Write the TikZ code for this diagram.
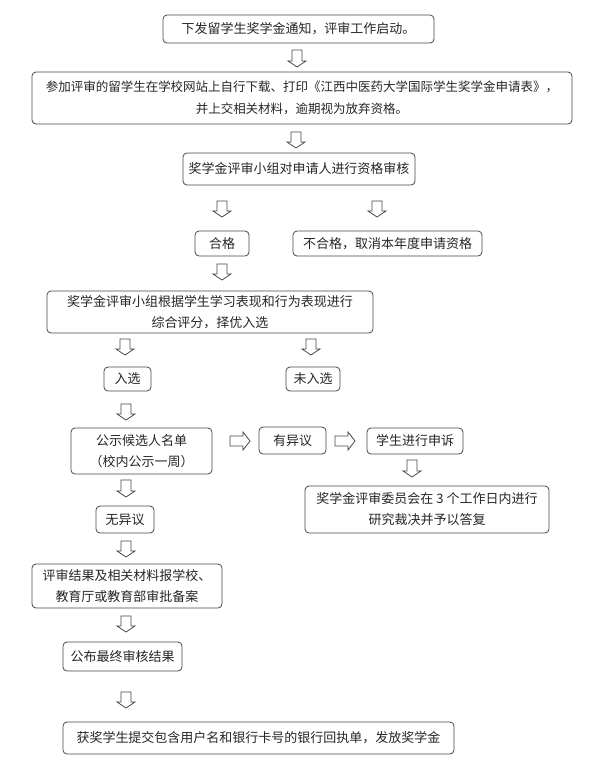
\documentclass[tikz,border=0pt]{standalone}
\usepackage{fontspec}
\newfontfamily\cjk{Noto Sans CJK SC}
\newcommand\downarr[3]{\draw[barrow] (#1-5,#2) -- (#1+5,#2) -- (#1+5,#3-6) -- (#1+9,#3-6) -- (#1,#3) -- (#1-9,#3-6) -- (#1-5,#3-6) -- cycle;}
\newcommand\rightarr[3]{\draw[barrow] (#1,#3-5) -- (#2-7,#3-5) -- (#2-7,#3-9) -- (#2,#3) -- (#2-7,#3+9) -- (#2-7,#3+5) -- (#1,#3+5) -- cycle;}
\begin{document}
\begin{tikzpicture}[x=1pt,y=-1pt,
  box/.style={draw=black!72, line width=0.8pt, rounded corners=4pt, inner sep=0pt, align=center,
    font=\cjk\fontsize{13}{21}\selectfont, text=black!85},
  barrow/.style={draw=black!72, line width=0.8pt, fill=white, line join=miter}]
\useasboundingbox (0,0) rectangle (594,772);
\fill[white] (0,0) rectangle (594,772);

\node[box, minimum width=271, minimum height=28] (b1) at (298.5,29) {下发留学生奖学金通知，评审工作启动。};
\node[box, minimum width=540, minimum height=52, font=\cjk\fontsize{12.5}{22}\selectfont] (b2) at (302,98) {参加评审的留学生在学校网站上自行下载、打印《江西中医药大学国际学生奖学金申请表》，\\并上交相关材料，逾期视为放弃资格。};
\node[box, minimum width=232, minimum height=32] (b3) at (299,169) {奖学金评审小组对申请人进行资格审核};
\node[box, minimum width=54, minimum height=25] (b4) at (222,243.5) {合格};
\node[box, minimum width=189, minimum height=25] (b5) at (387.5,243.5) {不合格，取消本年度申请资格};
\node[box, minimum width=326, minimum height=42] (b6) at (210,312) {奖学金评审小组根据学生学习表现和行为表现进行\\综合评分，择优入选};
\node[box, minimum width=47, minimum height=24] (b7) at (127.5,379) {入选};
\node[box, minimum width=54, minimum height=24] (b8) at (313,379) {未入选};
\node[box, minimum width=141, minimum height=46] (b9) at (141.5,451) {公示候选人名单\\（校内公示一周）};
\node[box, minimum width=67, minimum height=27] (b10) at (292.5,440.5) {有异议};
\node[box, minimum width=96, minimum height=26] (b11) at (415,441) {学生进行申诉};
\node[box, minimum width=244, minimum height=47] (b12) at (427,509.5) {奖学金评审委员会在 3 个工作日内进行\\研究裁决并予以答复};
\node[box, minimum width=58, minimum height=27] (b13) at (125,519.5) {无异议};
\node[box, minimum width=190, minimum height=44] (b14) at (127,586) {评审结果及相关材料报学校、\\教育厅或教育部审批备案};
\node[box, minimum width=119, minimum height=29] (b15) at (122.5,656.5) {公布最终审核结果};
\node[box, minimum width=391, minimum height=32] (b16) at (258.5,738) {获奖学生提交包含用户名和银行卡号的银行回执单，发放奖学金};

\downarr{297}{50}{67}
\downarr{296}{132}{148}
\downarr{222}{201}{217}
\downarr{377}{201}{217}
\downarr{222}{264}{280}
\downarr{125}{339}{355}
\downarr{311}{339}{355}
\downarr{126}{404}{420}
\rightarr{230}{250}{441}
\rightarr{335}{355}{441}
\downarr{412}{460}{477}
\downarr{126}{480}{497}
\downarr{126}{541}{557}
\downarr{126}{616}{632}
\downarr{126}{692}{708}
\end{tikzpicture}
\end{document}
